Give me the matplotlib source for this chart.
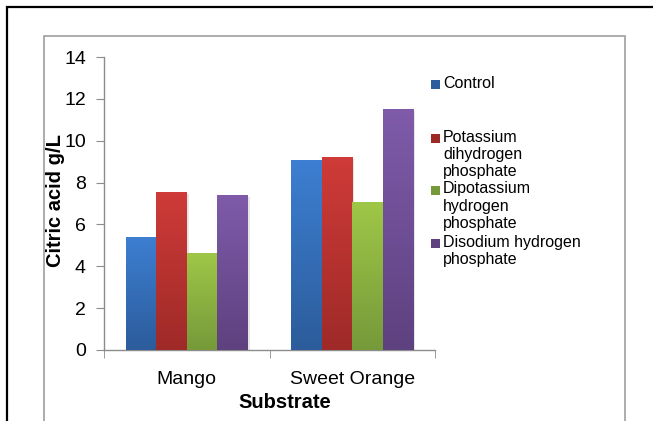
import numpy as np
import matplotlib
matplotlib.use("Agg")
import matplotlib.pyplot as plt
from matplotlib.patches import Rectangle
from matplotlib.colors import LinearSegmentedColormap
import matplotlib.patheffects as pe

plt.rcParams['font.family'] = ['Liberation Sans', 'DejaVu Sans']

categories = ["Mango", "Sweet Orange"]
series_names = ["Control", "Potassium\ndihydrogen\nphosphate",
                "Dipotassium\nhydrogen\nphosphate", "Disodium hydrogen\nphosphate"]
control = [5.40, 9.08]
kh2po4 = [7.55, 9.22]
k2hpo4 = [4.63, 7.07]
na2hpo4 = [7.41, 11.51]
values = [control, kh2po4, k2hpo4, na2hpo4]
top_colors = ["#3D7FD2", "#CF3B38", "#9FC747", "#7F5BAA"]
bottom_colors = ["#2C5C9B", "#9E2A28", "#76993A", "#5E417F"]
yticks = [0, 2, 4, 6, 8, 10, 12, 14]

W, H = 653, 421
fig = plt.figure(figsize=(W / 100, H / 100), dpi=100)

# frames
fig.patches.append(Rectangle((6.5 / W, -0.1), 1.2, (H - 6.5) / H + 0.1, transform=fig.transFigure,
                             fill=False, edgecolor="black", linewidth=1.6))
fig.patches.append(Rectangle((43.5 / W, -0.1), (625 - 43.5) / W, (H - 36) / H + 0.1,
                             transform=fig.transFigure, fill=False, edgecolor="#A6A6A6", linewidth=1.3))

ax_l, ax_r, ax_t, ax_b = 104, 435, 57, 350
ax = fig.add_axes([ax_l / W, (H - ax_b) / H, (ax_r - ax_l) / W, (ax_b - ax_t) / H])
ax.set_xlim(-0.5, 1.5)
ax.set_ylim(0, 14)

n = len(values)
bw = 0.184
x = np.arange(len(categories))
grad = np.linspace(0, 1, 256).reshape(-1, 1)
for i, (vals, ct, cb) in enumerate(zip(values, top_colors, bottom_colors)):
    offs = x + (i - (n - 1) / 2) * bw
    bars = ax.bar(offs, vals, width=bw, color=cb, edgecolor="none", zorder=2,
                  path_effects=[pe.SimplePatchShadow(offset=(1.5, -1.5), shadow_rgbFace="#909090", alpha=0.22),
                                pe.Normal()])
    cmap = LinearSegmentedColormap.from_list("g%d" % i, [cb, ct])
    for b in bars:
        bx, by = b.get_x(), b.get_y()
        bwid, bh = b.get_width(), b.get_height()
        im = ax.imshow(grad, cmap=cmap, origin="lower", aspect="auto",
                       extent=(bx, bx + bwid, by, by + bh), zorder=3)
        im.set_clip_path(b)
ax.set_xlim(-0.5, 1.5)
ax.set_ylim(0, 14)

for s in ["top", "right"]:
    ax.spines[s].set_visible(False)
for s in ["left", "bottom"]:
    ax.spines[s].set_color("#8C8C8C")
    ax.spines[s].set_linewidth(1.0)

ax.set_yticks(yticks)
ax.set_yticklabels([str(v) for v in yticks], fontsize=14)
ax.tick_params(axis="y", direction="out", length=6, color="#8C8C8C", pad=7)
ax.set_xticks(x)
ax.set_xticklabels(categories, fontsize=14)
ax.set_xticks([-0.5, 0.5, 1.5], minor=True)
ax.tick_params(axis="x", which="major", length=0, pad=15)
ax.tick_params(axis="x", which="minor", direction="out", length=6, color="#8C8C8C")

ax.set_ylabel("Citric acid g/L", fontsize=14.5, fontweight="bold")
ax.yaxis.set_label_coords((56 - ax_l) / (ax_r - ax_l), (ax_b - 201) / (ax_b - ax_t))
ax.yaxis.label.set_va("center")
ax.yaxis.label.set_ha("center")
ax.set_xlabel("Substrate", fontsize=14.5, fontweight="bold")
ax.xaxis.set_label_coords((285 - ax_l) / (ax_r - ax_l), -(402 - ax_b) / (ax_b - ax_t))
ax.xaxis.label.set_va("center")

# legend (manual, Excel-like even spacing)
entry_y = [84.5, 138, 190, 243]
for name, ct, cb, yy in zip(series_names, top_colors, bottom_colors, entry_y):
    fig.patches.append(Rectangle((431 / W, (H - yy - 4.5) / H), 9 / W, 9 / H, transform=fig.transFigure,
                                 facecolor=cb, edgecolor="none"))
    fig.text(443 / W, (H - yy + 8.5) / H, name, fontsize=11.5, ha="left", va="top",
             linespacing=1.2)

fig.savefig("out.png", dpi=100)
